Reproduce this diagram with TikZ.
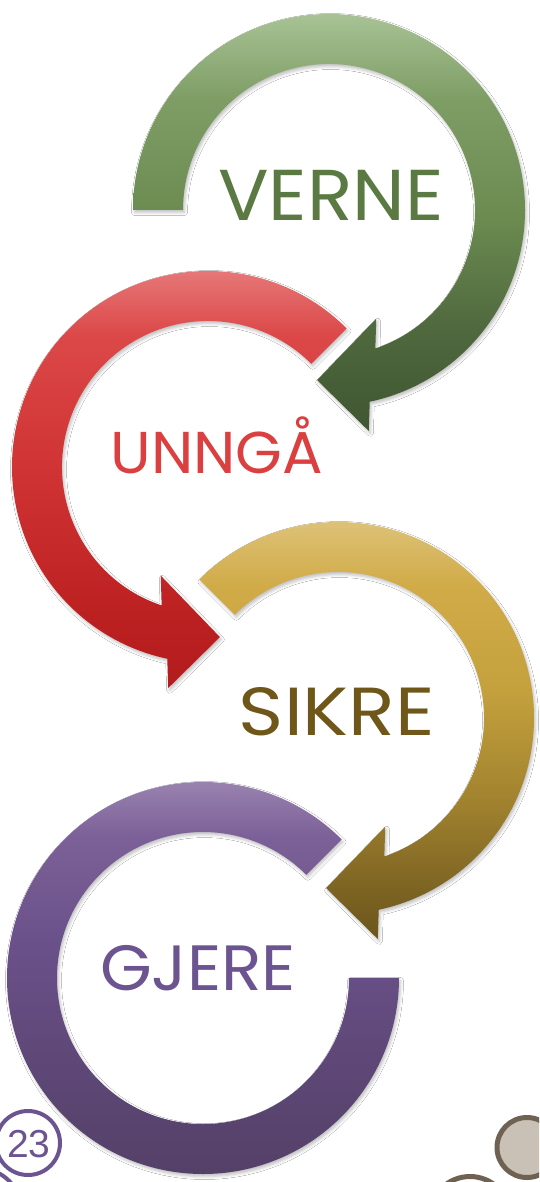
\documentclass[tikz,border=0pt]{standalone}
\usepackage{fontspec}
\setmainfont{Poppins}
\newfontfamily\numfont{Liberation Sans}
\usetikzlibrary{shadows.blur}
\definecolor{gTxt}{HTML}{5B7A43}
\definecolor{rTxt}{HTML}{DB4040}
\definecolor{yTxt}{HTML}{6E5719}
\definecolor{pTxt}{HTML}{6C5490}
\definecolor{dotLine}{HTML}{6F6253}
\definecolor{dotFill}{HTML}{C9C1B6}
% vertical shadings: path bbox maps to 25bp (bottom) .. 75bp (top)
\pgfdeclareverticalshading{greenshade}{100bp}{
  color(0bp)=(rgb,255:red,63;green,86;blue,50);
  color(25bp)=(rgb,255:red,63;green,86;blue,50);
  color(37.5bp)=(rgb,255:red,80;green,105;blue,62);
  color(50bp)=(rgb,255:red,106;green,138;blue,80);
  color(65bp)=(rgb,255:red,127;green,158;blue,102);
  color(75bp)=(rgb,255:red,168;green,194;blue,149);
  color(100bp)=(rgb,255:red,168;green,194;blue,149)}
\pgfdeclareverticalshading{redshade}{100bp}{
  color(0bp)=(rgb,255:red,179;green,27;blue,28);
  color(25bp)=(rgb,255:red,179;green,27;blue,28);
  color(36bp)=(rgb,255:red,191;green,35;blue,35);
  color(51.5bp)=(rgb,255:red,209;green,53;blue,53);
  color(65.5bp)=(rgb,255:red,220;green,72;blue,72);
  color(75bp)=(rgb,255:red,233;green,133;blue,133);
  color(100bp)=(rgb,255:red,233;green,133;blue,133)}
\pgfdeclareverticalshading{yellowshade}{100bp}{
  color(0bp)=(rgb,255:red,107;green,85;blue,26);
  color(25bp)=(rgb,255:red,107;green,85;blue,26);
  color(30bp)=(rgb,255:red,122;green,98;blue,34);
  color(41.5bp)=(rgb,255:red,163;green,132;blue,47);
  color(53.5bp)=(rgb,255:red,196;green,161;blue,61);
  color(65.5bp)=(rgb,255:red,209;green,171;blue,72);
  color(75bp)=(rgb,255:red,224;green,200;blue,132);
  color(100bp)=(rgb,255:red,224;green,200;blue,132)}
\pgfdeclareverticalshading{purpleshade}{100bp}{
  color(0bp)=(rgb,255:red,82;green,63;blue,101);
  color(25bp)=(rgb,255:red,82;green,63;blue,101);
  color(41bp)=(rgb,255:red,95;green,72;blue,120);
  color(53.5bp)=(rgb,255:red,106;green,80;blue,137);
  color(66.5bp)=(rgb,255:red,124;green,97;blue,152);
  color(75bp)=(rgb,255:red,163;green,141;blue,184);
  color(100bp)=(rgb,255:red,163;green,141;blue,184)}
\tikzset{
  ringshadow/.style={blur shadow={shadow xshift=1.5pt,shadow yshift=-2.5pt,shadow blur radius=3pt,shadow opacity=25}},
  lbl/.style={anchor=base,inner sep=0pt},
}
\begin{document}
\begin{tikzpicture}[x=1pt,y=1pt]
\clip (0,0) rectangle (539,-1182);
\fill[white] (0,0) rectangle (539,-1182);
% green (VERNE) arrow, clockwise
\begin{scope}[shift={(329,-210)}]
\path[ringshadow,shading=greenshade]
  (180:196pt) arc[start angle=180,end angle=-78,radius=196pt]
  -- (-79.8:224.5pt) -- (-94:170.5pt) -- (-66.5:118.5pt) -- (-71.5:146pt)
  arc[start angle=-71.5,end angle=180,radius=146pt] -- cycle;
\end{scope}
% red (UNNGA) arrow, counter-clockwise
\begin{scope}[shift={(208,-467)}]
\path[ringshadow,shading=redshade]
  (45:196pt) arc[start angle=45,end angle=258,radius=196pt]
  -- (259.8:224.5pt) -- (274:170.5pt) -- (246.5:118.5pt) -- (251.5:146pt)
  arc[start angle=251.5,end angle=45,radius=146pt] -- cycle;
\end{scope}
% yellow (SIKRE) arrow, clockwise
\begin{scope}[shift={(338,-718)}]
\path[ringshadow,shading=yellowshade]
  (135:196pt) arc[start angle=135,end angle=-78,radius=196pt]
  -- (-79.8:224.5pt) -- (-94:170.5pt) -- (-66.5:118.5pt) -- (-71.5:146pt)
  arc[start angle=-71.5,end angle=135,radius=146pt] -- cycle;
\end{scope}
% purple (GJERE) ring
\begin{scope}[shift={(203,-978)}]
\path[ringshadow,shading=purpleshade]
  (45:196pt) arc[start angle=45,end angle=360,radius=196pt]
  -- (0:146pt) arc[start angle=360,end angle=45,radius=146pt] -- cycle;
\end{scope}
% labels
\node[lbl,text=gTxt,font=\fontsize{72}{72}\selectfont] (verne) at (331,-221) {\scalebox{1.04}[1]{VERNE}};
\node[lbl,text=rTxt,font=\fontsize{59}{59}\selectfont] (unnga) at (217,-473) {\scalebox{1.02}[1]{UNNGÅ}};
\node[lbl,text=yTxt,font=\fontsize{68}{68}\selectfont] (sikre) at (337,-735) {\scalebox{1.13}[1]{SIKRE}};
\node[lbl,text=pTxt,font=\fontsize{64}{64}\selectfont] (gjere) at (198,-990) {\scalebox{1.04}[1]{GJERE}};
% page number
\draw[pTxt,line width=4pt] (28,-1143) circle[radius=32pt];
\node[text=pTxt,font=\numfont\fontsize{39}{39}\selectfont,inner sep=0pt] (pnum) at (29,-1144) {23};
\draw[pTxt,line width=4pt] (-22,-1212) circle[radius=44pt];
% decorative circles
\draw[dotLine,fill=dotFill,line width=5pt] (527,-1147.5) circle[radius=30pt];
\draw[dotLine,line width=5pt] (470,-1217) circle[radius=40.5pt];
\end{tikzpicture}
\end{document}
